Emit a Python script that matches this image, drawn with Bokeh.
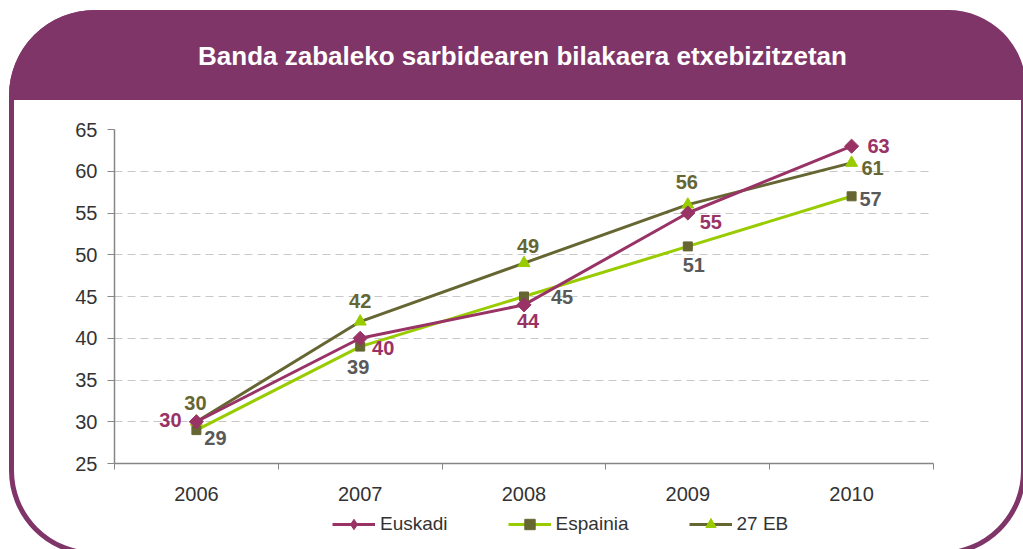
from bokeh.plotting import figure
from bokeh.layouts import column
from bokeh.models import Range1d, FixedTicker, Legend, LegendItem, ColumnDataSource, Label
from bokeh.embed import file_html
from bokeh.resources import INLINE
from bokeh.core.properties import value
from urllib.parse import quote
import math

# ---------------- data ----------------
title_text = "Banda zabaleko sarbidearen bilakaera etxebizitzetan"
years = ["2006", "2007", "2008", "2009", "2010"]
euskadi = [30, 40, 44, 55, 63]
espainia = [29, 39, 45, 51, 57]
eb27 = [30, 42, 49, 56, 61]
y_ticks = [25, 30, 35, 40, 45, 50, 55, 60, 65]
series_names = ["Euskadi", "Espainia", "27 EB"]

# ---------------- styles ----------------
FONT = "Liberation Sans"
PURPLE_HDR = "#7F3568"
C_EUS = "#993366"
C_ESP_LINE = "#99CC00"
C_OLIVE = "#666633"
C_ESP_LBL = "#595959"
AXIS_C = "#868686"
TXT_C = "#333333"

# label offsets (screen px: dx right, dy down)
off_eus = [(-26, -2), (23, 10), (4, 16), (23, 9), (27, 0)]
off_esp = [(19, 8), (-2, 20), (38, 0), (6, 19), (19, 3)]
off_eb = [(-1, -19), (0, -21), (4, -17), (-1, -23), (21, 5)]

W = 1023
H_TOP, H_CHART, H_LEG = 100, 411, 38

# decorative rounded frame with purple header band (background of the page layout)
frame_svg = (
    f"<svg xmlns='http://www.w3.org/2000/svg' width='{W}' height='549'>"
    f"<path d='M 9 100 L 9 95 A 86 86 0 0 1 95 10 L 948 10 A 78 78 0 0 1 1026 88 L 1026 100 Z' fill='{PURPLE_HDR}'/>"
    f"<rect x='11.5' y='12.5' width='1012' height='541' rx='83' ry='83' fill='none' "
    f"stroke='{PURPLE_HDR}' stroke-width='5'/></svg>"
)
bg_css = f'url("data:image/svg+xml,{quote(frame_svg)}")'


def bare_fig(h):
    f = figure(width=W, height=h, output_backend="svg", toolbar_location=None,
               x_axis_type=None, y_axis_type=None, x_range=Range1d(0, 1), y_range=Range1d(0, 1),
               min_border=0)
    f.outline_line_color = None
    f.background_fill_alpha = 0
    f.border_fill_alpha = 0
    f.grid.visible = False
    return f


# ---------- title strip (frame aligned with the chart frame: x measured from x=114) ----------
p_top = bare_fig(H_TOP)
p_top.add_layout(Label(x=408, y=45, x_units="screen", y_units="screen", text=title_text,
                       text_font=FONT, text_font_style="bold", text_font_size="26px",
                       text_color="white", text_align="center", text_baseline="middle"))

# ---------- main chart ----------
p = figure(width=W, height=H_CHART, output_backend="svg", toolbar_location=None,
           x_range=Range1d(-0.5, len(years) - 0.5), y_range=Range1d(y_ticks[0], y_ticks[-1]),
           min_border_left=114, min_border_right=90, min_border_top=29, min_border_bottom=48)
p.outline_line_color = None
p.background_fill_color = "white"
p.border_fill_alpha = 0

xs = list(range(len(years)))
xax = p.below[0]
xax.ticker = FixedTicker(ticks=xs, minor_ticks=[i - 0.5 for i in range(len(years) + 1)])
xax.major_label_overrides = {i: y for i, y in enumerate(years)}
xax.major_tick_line_color = None
xax.major_tick_out = 6
xax.major_tick_in = 0
xax.minor_tick_out = 6
xax.minor_tick_in = 0
xax.minor_tick_line_color = AXIS_C
xax.major_label_standoff = 17

yax = p.left[0]
yax.ticker = FixedTicker(ticks=y_ticks)
yax.major_tick_out = 7
yax.major_tick_in = 0
yax.minor_tick_line_color = None
yax.major_label_standoff = 10
yax.major_tick_line_color = AXIS_C

for ax in (xax, yax):
    ax.axis_line_color = AXIS_C
    ax.axis_line_width = 1.5
    ax.major_label_text_font = FONT
    ax.major_label_text_font_size = "20px"
    ax.major_label_text_color = TXT_C

p.xgrid.grid_line_color = None
p.ygrid.grid_line_color = "#C8C8C8"
p.ygrid.grid_line_dash = "8 5"
p.ygrid.grid_line_width = 1

src = ColumnDataSource(dict(x=xs, eus=euskadi, esp=espainia, eb=eb27))

line_styles = dict(eus=dict(line_color=C_EUS, line_width=3),
                   esp=dict(line_color=C_ESP_LINE, line_width=3),
                   eb=dict(line_color=C_OLIVE, line_width=3))
marker_styles = dict(eus=dict(marker="square", size=10, angle=math.pi / 4,
                              fill_color=C_EUS, line_color=C_EUS),
                     esp=dict(marker="square", size=9, fill_color=C_OLIVE, line_color=C_OLIVE),
                     eb=dict(marker="triangle", size=12, fill_color=C_ESP_LINE,
                             line_color=C_ESP_LINE))
# legend markers are drawn unrotated, so the Euskadi key uses a diamond marker
legend_marker_styles = dict(eus=dict(marker="diamond", fill_color=C_EUS, line_color=C_EUS),
                            esp=dict(marker="square", fill_color=C_OLIVE, line_color=C_OLIVE),
                            eb=dict(marker="triangle", fill_color=C_ESP_LINE,
                                    line_color=C_ESP_LINE))

for key in ("eb", "esp", "eus"):
    p.line("x", key, source=src, **line_styles[key])
for key in ("esp", "eb", "eus"):
    p.scatter("x", key, source=src, **marker_styles[key])


def add_labels(vals, offs, color):
    s = ColumnDataSource(dict(x=xs, y=vals, t=[str(v) for v in vals],
                              dx=[o[0] for o in offs], dy=[o[1] for o in offs]))
    p.text("x", "y", text="t", source=s, x_offset="dx", y_offset="dy",
           text_font=value(FONT), text_font_style="bold", text_font_size="20px",
           text_color=color, text_align="center", text_baseline="middle")


add_labels(euskadi, off_eus, C_EUS)
add_labels(espainia, off_esp, C_ESP_LBL)
add_labels(eb27, off_eb, C_OLIVE)

# ---------- legend strip (same series styles, data kept outside its view) ----------
p_leg = bare_fig(H_LEG)
p_leg.x_range = Range1d(100, 101)
items = []
for key, name in zip(("eus", "esp", "eb"), series_names):
    r_line = p_leg.line("x", key, source=src, **line_styles[key])
    r_mark = p_leg.scatter("x", key, source=src, **legend_marker_styles[key])
    items.append(LegendItem(label=name, renderers=[r_line, r_mark]))

legend = Legend(items=items, orientation="horizontal", location=(218, 12),
                glyph_width=43, glyph_height=26, label_height=26, label_standoff=5,
                spacing=60, padding=0, margin=0, border_line_color=None,
                background_fill_alpha=0,
                label_text_font=FONT, label_text_font_size="19px", label_text_color=TXT_C)
p_leg.add_layout(legend)

page = column(p_top, p, p_leg, spacing=0,
              styles={"background-image": bg_css, "background-repeat": "no-repeat"})

open("out.html", "w").write(file_html(page, INLINE))
